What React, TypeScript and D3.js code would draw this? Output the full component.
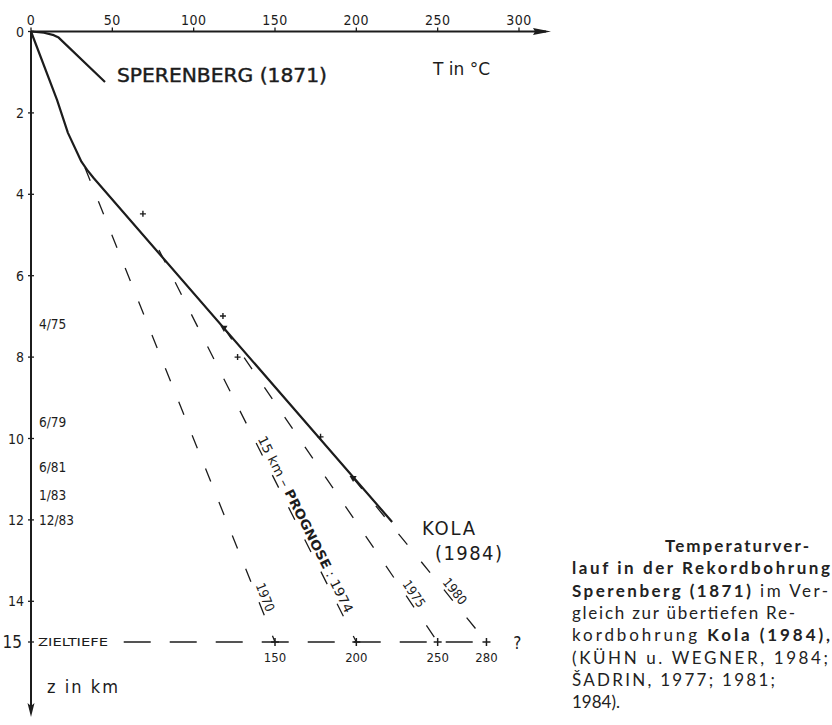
import React from 'react';
import * as d3 from 'd3';

// axis ticks
const tempTicks = [0, 50, 100, 150, 200, 250, 300];
const depthTicks = [0, 2, 4, 6, 8, 10, 12, 14, 15];

// measured temperature profiles (depth in km, T in °C)
const sperenbergDepth = [0, 0.03, 0.09, 0.15, 1.24];
const sperenbergTemp = [0, 8, 14, 17, 45.5];

const kolaDepth = [0, 1.68, 2.49, 3.2, 3.4, 3.6, 12.05];
const kolaTemp = [0, 16, 22.7, 31, 34.5, 38.5, 222];

// single measurements near the Kola curve
const measureDepth = [4.48, 6.99, 8.0, 9.96];
const measureTemp = [68.8, 118, 127, 178];

// prognoses for the target depth
const prognosisYears = ['1970', '1974', '1975', '1980'];
const prognosisStartDepth = [3.35, 5.37, 7.28, 10.97];
const prognosisStartTemp = [33.2, 78.7, 118.6, 198];
const prognosisEndTemp = [150, 200, 250, 280];
const prognosisEndLabels = ['150', '200', '250', '280'];
const prognosisLabelDepth = [13.97, 10.04, 13.92, 13.87];
const targetDepth = 15;
const targetLineStartTemp = 57;

// drilling progress at Kola
const drillDates = ['4/75', '6/79', '6/81', '1/83', '12/83'];
const drillDepths = [7.2, 9.6, 10.7, 11.4, 12.0];

const captionLines: [string, boolean][][] = [
  [['Temperaturver-', true]],
  [['lauf in der Rekordbohrung', true]],
  [['Sperenberg (1871)', true], [' im Ver-', false]],
  [['gleich zur übertiefen Re-', false]],
  [['kordbohrung ', false], ['Kola (1984),', true]],
  [['(KÜHN u. WEGNER, 1984;', false]],
  [['ŠADRIN, 1977; 1981;', false]],
  [['1984).', false]],
];
const captionWidths = [144, 258, 256, 223, 258, 256, 203, 0];

const W = 832;
const H = 725;
const ink = '#1c1c1c';
const font = "'DejaVu Sans Condensed', 'Liberation Sans Narrow', Roboto, sans-serif";

export default function App() {
  const x = d3.scaleLinear().domain([0, 300]).range([31, 519]);
  const y = d3.scaleLinear().domain([0, 15]).range([31.5, 642]);

  const profile = d3
    .line<[number, number]>()
    .x((d) => x(d[1]))
    .y((d) => y(d[0]));

  const sperenberg = profile(sperenbergDepth.map((z, i) => [z, sperenbergTemp[i]]));
  const kola = profile(kolaDepth.map((z, i) => [z, kolaTemp[i]]));

  const x0 = x(0);
  const y0 = y(0);
  const triangle = d3.symbol(d3.symbolTriangle, 22)() as string;

  return (
    <svg
      width={W}
      height={H}
      style={{ position: 'absolute', left: 0, top: 0, background: '#fff' }}
      fontFamily={font}
    >
      <rect width={W} height={H} fill="#fff" />

      {/* top temperature axis */}
      <line x1={x0} x2={546} y1={y0} y2={y0} stroke={ink} strokeWidth={2} />
      <path d={`M551,${y0}L533,${y0 - 3.5}L535,${y0}L533,${y0 + 3.5}Z`} fill={ink} />
      {tempTicks.map((t) => (
        <g key={t}>
          <line x1={x(t)} x2={x(t)} y1={y0 - 4} y2={y0} stroke={ink} strokeWidth={1.3} />
          <text x={x(t)} y={25} textAnchor="middle" fontSize={14} fill={ink} letterSpacing={0.5}>
            {t}
          </text>
        </g>
      ))}

      {/* depth axis */}
      <line x1={x0} x2={x0} y1={y0} y2={712} stroke={ink} strokeWidth={2} />
      <path d={`M${x0},717L${x0 - 3.5},703L${x0},706L${x0 + 3.5},703Z`} fill={ink} />
      {depthTicks.map((z) => (
        <g key={z}>
          <line x1={x0 - 3} x2={x0 + 3} y1={y(z)} y2={y(z)} stroke={ink} strokeWidth={1.3} />
          <text
            x={z === 15 ? 22 : 24}
            y={y(z)}
            dy="0.36em"
            textAnchor="end"
            fontSize={z === 15 ? 17 : 14}
            fill={ink}
          >
            {z}
          </text>
        </g>
      ))}

      {drillDates.map((d, i) => (
        <text key={d} x={39} y={y(drillDepths[i])} dy="0.36em" fontSize={13.5} fill={ink}>
          {d}
        </text>
      ))}

      {/* target depth line */}
      <text x={38} y={y(targetDepth)} dy="0.38em" fontSize={11} fontWeight={500} fill={ink} textLength={70} lengthAdjust="spacingAndGlyphs">
        ZIELTIEFE
      </text>
      <line
        x1={x(targetLineStartTemp)}
        x2={x(prognosisEndTemp[3])}
        y1={y(targetDepth)}
        y2={y(targetDepth)}
        stroke={ink}
        strokeWidth={1.3}
        strokeDasharray="27,19"
      />

      {/* prognosis lines */}
      {prognosisYears.map((yr, i) => {
        const sx = x(prognosisStartTemp[i]);
        const sy = y(prognosisStartDepth[i]);
        const ex = x(prognosisEndTemp[i]);
        const ey = y(targetDepth);
        const ang = (Math.atan2(ey - sy, ex - sx) * 180) / Math.PI;
        const t = (y(prognosisLabelDepth[i]) - sy) / (ey - sy);
        const lx = sx + (ex - sx) * t;
        const ly = sy + (ey - sy) * t;
        return (
          <g key={yr}>
            <line x1={sx} y1={sy} x2={ex} y2={ey} stroke={ink} strokeWidth={1.3} strokeDasharray="14,22" />
            <g transform={`translate(${lx},${ly}) rotate(${ang})`}>
              {yr === '1974' ? (
                <text x={0} y={-3} fontSize={13} fill={ink} textLength={196} lengthAdjust="spacingAndGlyphs">
                  15 km – <tspan fontWeight={600}>PROGNOSE</tspan> : 1974
                </text>
              ) : (
                <text x={0} y={-3} textAnchor="middle" fontSize={13} fill={ink}>
                  {yr}
                </text>
              )}
            </g>
            <path d={`M${ex - 4},${ey}H${ex + 4}M${ex},${ey - 4}V${ey + 4}`} stroke={ink} strokeWidth={1.5} />
            <text x={ex} y={ey + 20} textAnchor="middle" fontSize={13} fill={ink}>
              {prognosisEndLabels[i]}
            </text>
            <path d={triangle} transform={`translate(${sx},${sy}) rotate(180)`} fill={ink} opacity={i > 1 ? 1 : 0} />
          </g>
        );
      })}
      <text x={x(299)} y={y(targetDepth)} dy="0.4em" textAnchor="middle" fontSize={17} fill={ink}>
        ?
      </text>

      {/* profiles */}
      <path d={sperenberg ?? ''} fill="none" stroke={ink} strokeWidth={2.2} strokeLinejoin="round" />
      <path d={kola ?? ''} fill="none" stroke={ink} strokeWidth={2.2} strokeLinejoin="round" />
      {measureDepth.map((z, i) => (
        <path
          key={z}
          d={`M${x(measureTemp[i]) - 3},${y(z)}H${x(measureTemp[i]) + 3}M${x(measureTemp[i])},${y(z) - 3}V${y(z) + 3}`}
          stroke={ink}
          strokeWidth={1.4}
        />
      ))}

      {/* labels */}
      <text x={117} y={82} fontSize={19} fill={ink} stroke={ink} strokeWidth={0.4} textLength={210} lengthAdjust="spacingAndGlyphs">
        SPERENBERG (1871)
      </text>
      <text x={433} y={75} fontSize={18} fill={ink} textLength={57} lengthAdjust="spacingAndGlyphs">
        T in °C
      </text>
      <text x={422} y={535} fontSize={20} fill={ink} textLength={53} lengthAdjust="spacing">
        KOLA
      </text>
      <text x={435} y={560} fontSize={20} fill={ink} textLength={67} lengthAdjust="spacing">
        (1984)
      </text>
      <text x={47} y={693} fontSize={18} fill={ink} textLength={71} lengthAdjust="spacing">
        z in km
      </text>

      {/* caption */}
      <g fontFamily="Lato, 'Noto Sans', sans-serif" fontSize={17} fill="#222">
        {captionLines.map((segs, i) => (
          <text
            key={i}
            x={i === 0 ? 665 : 572}
            y={552 + i * 22.3}
            textLength={captionWidths[i] || undefined}
            lengthAdjust="spacing"
          >
            {segs.map(([s, b], j) => (
              <tspan key={j} fontWeight={b ? 700 : 400}>
                {s}
              </tspan>
            ))}
          </text>
        ))}
      </g>
    </svg>
  );
}
